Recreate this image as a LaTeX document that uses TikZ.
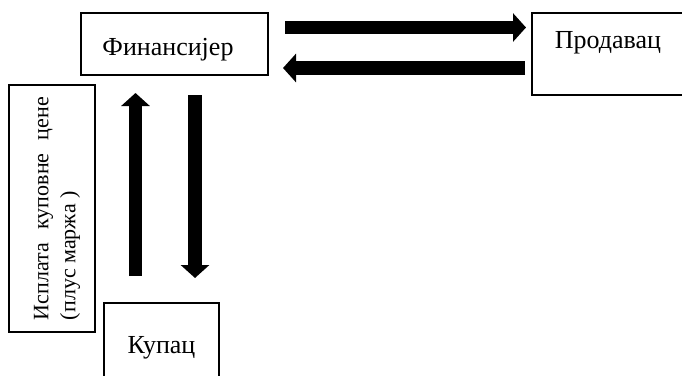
\documentclass[tikz,border=0pt]{standalone}
\usepackage{fontspec}
\setmainfont{Liberation Serif}
\usetikzlibrary{arrows.meta}
\begin{document}
\begin{tikzpicture}[x=1pt,y=-1pt,
  box/.style={draw, line width=1.3pt, inner sep=0pt},
  fatarrow/.style={line width=13.5pt, -{Triangle[length=13pt,width=28pt]}},
  lbl/.style={font=\fontsize{26}{30}\selectfont}]
\clip (0,0) rectangle (682,375);
\fill[white] (0,0) rectangle (682,375);
% boxes
\node[box, lbl, minimum width=187pt, minimum height=62pt, text height=26pt, text depth=4pt] (fin) at (174.5,44) {Финансијер\hspace*{13pt}};
\node[box, lbl, minimum width=152pt, minimum height=82pt, text height=18pt, text depth=30pt] (prod) at (608,54) {Продавац};
\node[box, lbl, minimum width=115pt, minimum height=86pt, text height=20pt, text depth=6pt] (kup) at (161.5,346) {Купац};
\node[box, minimum width=86pt, minimum height=247pt] (pay) at (52,208.5) {};
\node[rotate=90, align=left, inner sep=0pt, font=\fontsize{22}{27}\selectfont] (paytext) at (57,208.5)
  {\makebox[223pt][s]{Исплата куповне цене}\\\makebox[223pt][l]{(плус маржа )}};
% arrow end points
\coordinate (a1s) at (285,27.5);
\coordinate (a1e) at (526,27.5);
\coordinate (a2s) at (525,68);
\coordinate (a2e) at (283,68);
\coordinate (a3s) at (135.5,276);
\coordinate (a3e) at (135.5,93);
\coordinate (a4s) at (195,95);
\coordinate (a4e) at (195,278);
\draw[fatarrow] (a1s) -- (a1e);
\draw[fatarrow] (a2s) -- (a2e);
\draw[fatarrow] (a3s) -- (a3e);
\draw[fatarrow] (a4s) -- (a4e);
\end{tikzpicture}
\end{document}
